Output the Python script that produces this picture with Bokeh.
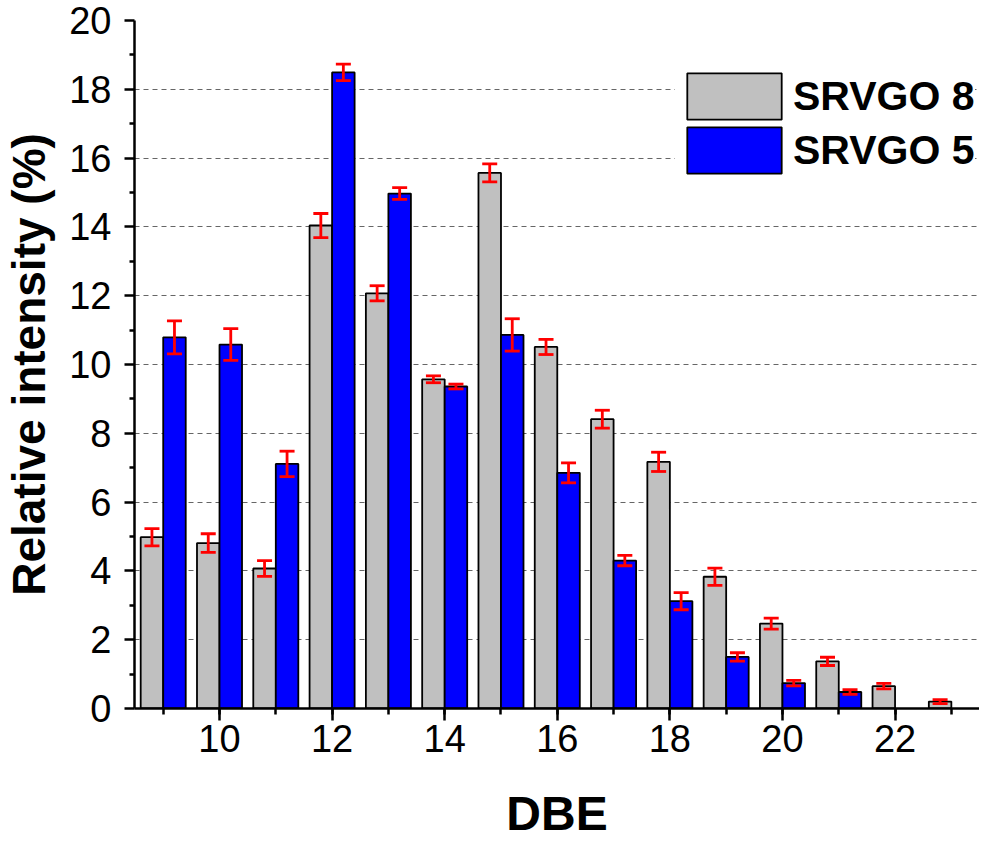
from bokeh.plotting import figure
from bokeh.models import (ColumnDataSource, FixedTicker, Whisker, TeeHead,
                          Legend, LegendItem, Range1d)
from bokeh.embed import file_html
from bokeh.resources import INLINE

# ---- data ----
dbe = [9, 10, 11, 12, 13, 14, 15, 16, 17, 18, 19, 20, 21, 22, 23]
srvgo8 = [4.98, 4.81, 4.07, 14.04, 12.07, 9.57, 15.57, 10.51, 8.41, 7.17, 3.83, 2.47, 1.37, 0.65, 0.20]
srvgo8_err = [0.25, 0.27, 0.23, 0.35, 0.22, 0.10, 0.26, 0.22, 0.26, 0.28, 0.25, 0.16, 0.12, 0.08, 0.06]
dbe5 = [9, 10, 11, 12, 13, 14, 15, 16, 17, 18, 19, 20, 21]
srvgo5 = [10.79, 10.58, 7.11, 18.49, 14.97, 9.36, 10.86, 6.85, 4.30, 3.12, 1.50, 0.74, 0.48]
srvgo5_err = [0.48, 0.46, 0.37, 0.24, 0.17, 0.07, 0.47, 0.29, 0.15, 0.25, 0.12, 0.08, 0.07]
x_ticks = [10, 12, 14, 16, 18, 20, 22]
y_ticks = [0, 2, 4, 6, 8, 10, 12, 14, 16, 18, 20]

offset = 0.2
bar_w = 0.4

s8 = ColumnDataSource(dict(
    x=[d - offset for d in dbe], top=srvgo8,
    upper=[v + e for v, e in zip(srvgo8, srvgo8_err)],
    lower=[v - e for v, e in zip(srvgo8, srvgo8_err)]))
s5 = ColumnDataSource(dict(
    x=[d + offset for d in dbe5], top=srvgo5,
    upper=[v + e for v, e in zip(srvgo5, srvgo5_err)],
    lower=[v - e for v, e in zip(srvgo5, srvgo5_err)]))

FONT = "Liberation Sans"

p = figure(width=979, height=842, output_backend="svg", toolbar_location=None,
           x_range=Range1d(8.49, 23.5), y_range=Range1d(0, 20),
           min_border_left=125, min_border_right=0, min_border_top=20,
           min_border_bottom=133)
p.outline_line_color = None
p.background_fill_color = "white"
p.border_fill_color = "white"

r8 = p.vbar(x="x", top="top", width=bar_w, source=s8, fill_color="#c0c0c0",
            line_color="black", line_width=1.8)
r5 = p.vbar(x="x", top="top", width=bar_w, source=s5, fill_color="#0000ff",
            line_color="black", line_width=1.8)

for src in (s8, s5):
    w = Whisker(base="x", upper="upper", lower="lower", source=src,
                line_color="#ff0000", line_width=2.8, level="overlay",
                upper_head=TeeHead(size=15, line_color="#ff0000", line_width=2.8),
                lower_head=TeeHead(size=15, line_color="#ff0000", line_width=2.8))
    p.add_layout(w)

# axes
p.xaxis.ticker = FixedTicker(ticks=x_ticks, minor_ticks=dbe)
p.yaxis.ticker = FixedTicker(ticks=y_ticks, minor_ticks=list(range(1, 20, 2)))
for ax in (p.xaxis[0], p.yaxis[0]):
    ax.axis_line_width = 2.5
    ax.axis_line_color = "black"
    ax.major_tick_line_width = 2.5
    ax.minor_tick_line_width = 2.5
    ax.major_tick_in = 0
    ax.minor_tick_in = 0
    ax.major_tick_line_color = "black"
    ax.minor_tick_line_color = "black"
    ax.major_label_text_font = FONT
    ax.major_label_text_font_size = "38px"
    ax.major_label_text_color = "black"
    ax.axis_label_text_font = FONT
    ax.axis_label_text_font_style = "bold"
    ax.axis_label_text_color = "black"
p.xaxis.major_tick_out = 12
p.xaxis.minor_tick_out = 6
p.yaxis.major_tick_out = 10
p.yaxis.minor_tick_out = 5
p.xaxis.major_label_standoff = 4
p.yaxis.major_label_standoff = 13
p.xaxis.axis_label = "DBE"
p.yaxis.axis_label = "Relative intensity (%)"
p.xaxis.axis_label_text_font_size = "48px"
p.yaxis.axis_label_text_font_size = "46px"
p.xaxis.axis_label_standoff = 32
p.yaxis.axis_label_standoff = 11

# grid
p.xgrid.visible = False
p.ygrid.ticker = FixedTicker(ticks=y_ticks[1:-1])
p.ygrid.grid_line_color = "#666666"
p.ygrid.grid_line_width = 1.2
p.ygrid.grid_line_dash = "5 4"

legend_kw = dict(padding=0, spacing=0, margin=0, glyph_width=118, glyph_height=58,
                 label_standoff=0, label_text_font=FONT, label_text_font_size="41px",
                 label_text_font_style="bold", label_text_color="black",
                 border_line_color=None, background_fill_color="white",
                 background_fill_alpha=1.0)
p.add_layout(Legend(items=[LegendItem(label="SRVGO 8", renderers=[r8])],
                    location=(541, 583), **legend_kw))
p.add_layout(Legend(items=[LegendItem(label="SRVGO 5", renderers=[r5])],
                    location=(541, 529), **legend_kw))

open("out.html", "w").write(file_html(p, INLINE))
